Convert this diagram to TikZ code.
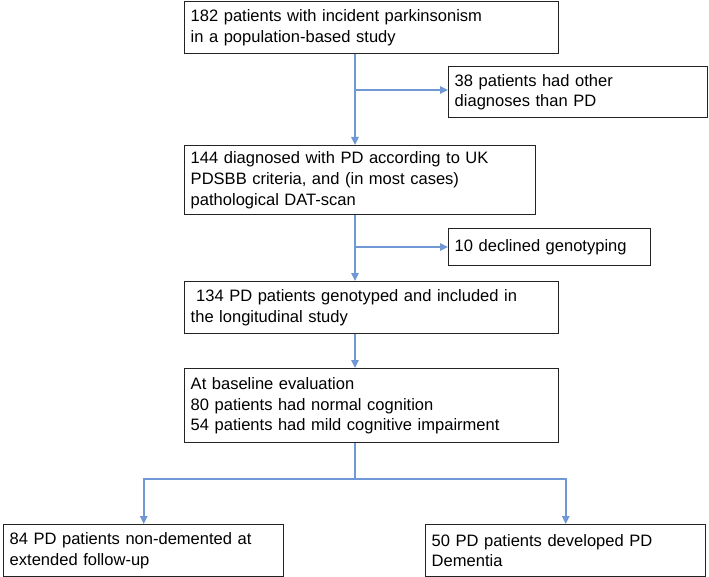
\documentclass[tikz,border=0pt]{standalone}
\usepackage{fontspec}
\setmainfont{Liberation Sans}
\usetikzlibrary{arrows.meta}

\definecolor{boxline}{RGB}{35,35,35}
\definecolor{flowblue}{RGB}{112,152,212}

\tikzset{every picture/.style={line width=0.75pt}}
\tikzset{
  box/.style={draw=boxline, line width=1.1pt, anchor=north west, align=left,
    inner xsep=4.5pt, inner ysep=0pt, font=\fontsize{12.4}{15.5}\selectfont},
  flow/.style={draw=flowblue, line width=1.6pt, -{Triangle[length=6pt,width=5.5pt]}},
  trunk/.style={draw=flowblue, line width=1.6pt}
}

\begin{document}
\begin{tikzpicture}[x=0.75pt,y=0.75pt,yscale=-1,xscale=1]
\useasboundingbox (0,0) rectangle (709,577);

%Shape: Rectangle with text [b1]
\draw (184,1) node [box, text width=271.5pt, minimum height=39pt] (b1) {182 patients with incident parkinsonism\\in a population-based study};
%Shape: Rectangle with text [s1]
\draw (448,66) node [box, text width=185.25pt, minimum height=38.25pt] (s1) {38 patients had other\\diagnoses than PD};
%Shape: Rectangle with text [b2]
\draw (184,145) node [box, text width=254.25pt, minimum height=51.75pt] (b2) {144 diagnosed with PD according to UK\\PDSBB criteria, and (in most cases)\\pathological DAT-scan};
%Shape: Rectangle with text [s2]
\draw (448,228) node [box, text width=142.5pt, minimum height=27.75pt] (s2) {10 declined genotyping};
%Shape: Rectangle with text [b3]
\draw (184,281) node [box, text width=271.5pt, minimum height=39pt] (b3) {\ 134 PD patients genotyped and included in\\the longitudinal study};
%Shape: Rectangle with text [b4]
\draw (184,368) node [box, text width=271.5pt, minimum height=55.5pt] (b4) {At baseline evaluation\\80 patients had normal cognition\\54 patients had mild cognitive impairment};
%Shape: Rectangle with text [c1]
\draw (3,524) node [box, text width=201pt, minimum height=39pt] (c1) {84 PD patients non-demented at\\extended follow-up};
%Shape: Rectangle with text [c2]
\draw (425,524) node [box, text width=201pt, minimum height=39pt] (c2) {50 PD patients developed PD\\Dementia};

%Branch points
\coordinate (t1) at (355,90);
\coordinate (t2) at (355,247);
\coordinate (sp) at (355,479);

%Straight Lines [main flow]
\draw [flow] (b1.south -| t1) -- (b2.north -| t1);
\draw [flow] (t1) -- (t1 -| s1.west);
\draw [flow] (b2.south -| t2) -- (b3.north -| t2);
\draw [flow] (t2) -- (t2 -| s2.west);
\draw [flow] (b3.south -| t2) -- (b4.north -| t2);
%Straight Lines [split]
\draw [trunk] (b4.south -| sp) -- (sp);
\draw [flow] (sp) -| (c1.north);
\draw [flow] (sp) -| (c2.north);

\end{tikzpicture}
\end{document}
